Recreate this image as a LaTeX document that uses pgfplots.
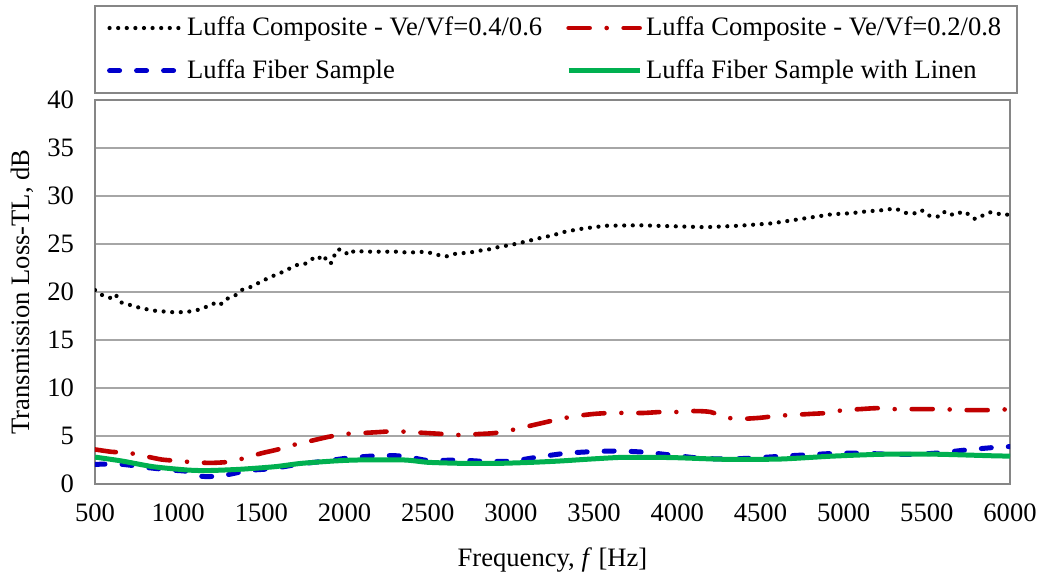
\documentclass[border=0pt]{standalone}
\usepackage{pgfplots}
\pgfplotsset{compat=1.18}
\usepackage{fontspec}
\setmainfont{Liberation Serif}

\definecolor{tlred}{RGB}{192,0,0}
\definecolor{tlblue}{RGB}{0,0,204}
\definecolor{tlgreen}{RGB}{0,176,80}
\definecolor{gridgray}{RGB}{166,166,166}
\definecolor{boxgray}{RGB}{134,134,134}

\newcommand\cf{\fontsize{13.3pt}{16pt}\selectfont}

\begin{document}
\begin{tikzpicture}
% fix page size to the reference proportions (plot corner at 0,0)
\path[use as bounding box] (-47.5pt,-46.5pt) rectangle (472pt,242pt);
\begin{axis}[
    scale only axis,
    width=457.5pt,
    height=192pt,
    xmin=500, xmax=6000,
    ymin=0, ymax=40,
    xtick={500,1000,...,6000},
    ytick={0,5,...,40},
    /pgf/number format/assume math mode=true,
    /pgf/number format/1000 sep={},
    major tick length=0pt,
    ymajorgrids,
    major grid style={gridgray, line width=0.75pt},
    axis line style={boxgray, line width=1pt},
    tick label style={font=\cf},
    xticklabel style={anchor=center, yshift=-14.5pt},
    yticklabel style={anchor=east, xshift=-7pt},
    xlabel={Frequency, \textit{f} [Hz]},
    ylabel={Transmission Loss-TL, dB},
    label style={font=\cf},
    xlabel style={at={(axis description cs:0.5,-0.198)}, anchor=center},
    ylabel style={at={(axis description cs:-0.0798,0.5)}, anchor=center},
    legend columns=2,
    legend cell align=left,
    legend image code/.code={\draw[#1] (0pt,0pt) -- (35.5pt,0pt);},
    legend style={
      at={(axis description cs:-0.001,1.247)}, anchor=north west,
      draw=boxgray, line width=1pt, font=\cf,
      inner xsep=6pt, inner ysep=3.5pt, row sep=6.5pt,
      /tikz/every even column/.append style={column sep=10pt},
    },
  ]

  % Luffa Composite - Ve/Vf=0.4/0.6
  \addplot[black, line width=2.1pt, line cap=round, dash pattern=on 0pt off 4.3pt]
    coordinates {
    (500,20.2) (540,19.7) (580,19.5) (610,19.2) (630,19.6) (660,18.9)
    (720,18.6) (780,18.3) (860,18.05) (960,17.9) (1040,17.9) (1100,18.05)
    (1150,18.3) (1210,18.8) (1250,18.6) (1280,19.2) (1340,19.6) (1380,20.2)
    (1440,20.55) (1500,21.1) (1560,21.6) (1630,22.1) (1710,22.8) (1760,22.9)
    (1790,23.3) (1840,23.75) (1870,23.2) (1890,23.6) (1920,23.0) (1940,23.85)
    (1960,24.45) (2000,24.3) (2020,23.85) (2060,24.3) (2120,24.2) (2220,24.2)
    (2320,24.2) (2380,24.1) (2490,24.2) (2550,23.9) (2610,23.7) (2670,24.0)
    (2750,24.1) (2810,24.3) (2870,24.45) (2930,24.7) (3000,24.9) (3100,25.3)
    (3170,25.6) (3250,25.9) (3330,26.3) (3430,26.6) (3570,26.9) (3770,26.95)
    (3970,26.85) (4170,26.75) (4370,26.9) (4570,27.15) (4740,27.6) (4930,28.1)
    (5040,28.2) (5140,28.4) (5220,28.5) (5310,28.7) (5380,28.2) (5440,28.2)
    (5470,28.5) (5520,27.9) (5580,27.85) (5610,28.4) (5660,28.0) (5720,28.4)
    (5760,28.0) (5790,27.6) (5840,28.0) (5880,28.3) (5920,28.2) (5960,28.0)
    (6000,28.1)
    };
  \addlegendentry{Luffa Composite - Ve/Vf=0.4/0.6}

  % Luffa Composite - Ve/Vf=0.2/0.8
  \addplot[tlred, line width=2.3pt, line cap=round, smooth, tension=0.4,
    dash pattern=on 10.5pt off 8.5pt on 0pt off 8.5pt]
    coordinates {
    (500,3.6) (600,3.35) (700,3.25) (800,2.9) (900,2.55) (1000,2.4)
    (1100,2.25) (1200,2.2) (1300,2.3) (1400,2.7) (1500,3.2) (1600,3.6)
    (1700,4.1) (1800,4.5) (1900,4.9) (2000,5.2) (2100,5.3) (2200,5.4)
    (2300,5.5) (2400,5.4) (2500,5.3) (2600,5.2) (2700,5.1) (2800,5.2)
    (2900,5.3) (3000,5.6) (3100,6.0) (3200,6.4) (3300,6.8) (3400,7.1)
    (3500,7.3) (3600,7.4) (3700,7.4) (3800,7.4) (3900,7.5) (4000,7.5)
    (4100,7.6) (4200,7.5) (4300,6.9) (4400,6.8) (4500,6.9) (4600,7.1)
    (4700,7.2) (4800,7.3) (4900,7.4) (5000,7.7) (5100,7.8) (5200,7.9)
    (5300,7.8) (5400,7.8) (5500,7.8) (5600,7.8) (5700,7.7) (5800,7.7)
    (5900,7.7) (6000,7.8)
    };
  \addlegendentry{Luffa Composite - Ve/Vf=0.2/0.8}

  % Luffa Fiber Sample
  \addplot[tlblue, line width=2.5pt, line cap=round, smooth, tension=0.4,
    dash pattern=on 5pt off 8.5pt]
    coordinates {
    (500,2.05) (660,2.05) (820,1.7) (960,1.45) (1060,1.3) (1140,0.8)
    (1260,0.85) (1420,1.4) (1560,1.6) (1740,2.1) (1890,2.4) (2020,2.7)
    (2200,2.95) (2360,2.9) (2500,2.45) (2690,2.5) (2850,2.35) (3010,2.4)
    (3160,2.8) (3330,3.2) (3490,3.37) (3650,3.44) (3810,3.3) (3970,3.0)
    (4130,2.7) (4290,2.6) (4450,2.7) (4630,2.9) (4790,3.05) (4960,3.2)
    (5110,3.2) (5280,3.1) (5440,3.1) (5580,3.25) (5740,3.55) (5900,3.8)
    (6000,3.9)
    };
  \addlegendentry{Luffa Fiber Sample}

  % Luffa Fiber Sample with Linen
  \addplot[tlgreen, line width=2.5pt, smooth, tension=0.4]
    coordinates {
    (500,2.8) (660,2.4) (850,1.8) (1060,1.45) (1180,1.4) (1370,1.53)
    (1580,1.8) (1740,2.15) (1940,2.4) (2080,2.5) (2360,2.5) (2500,2.26)
    (2710,2.15) (2930,2.15) (3130,2.26) (3300,2.4) (3480,2.6) (3680,2.78)
    (3970,2.75) (4290,2.57) (4620,2.6) (4930,2.9) (5240,3.1) (5560,3.1)
    (5870,2.95) (6000,2.9)
    };
  \addlegendentry{Luffa Fiber Sample with Linen}

\end{axis}
\end{tikzpicture}
\end{document}
